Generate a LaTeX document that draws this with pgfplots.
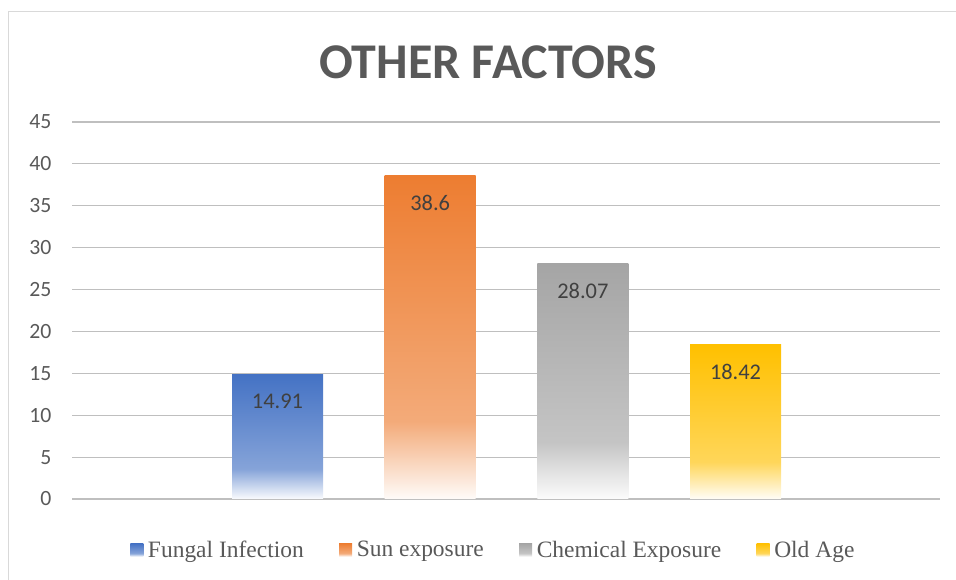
\documentclass[border=0pt]{standalone}
\usepackage{pgfplots}
\pgfplotsset{compat=1.18}
\usepackage{fontspec}
\setmainfont{Carlito}
\newfontfamily\legendfont{Liberation Serif}
\definecolor{cblue}{HTML}{4472C4}
\definecolor{corange}{HTML}{ED7D31}
\definecolor{cgray}{HTML}{A5A5A5}
\definecolor{cgold}{HTML}{FFC000}
\definecolor{txt}{HTML}{595959}
\definecolor{lbl}{HTML}{404040}
\definecolor{grid}{HTML}{D9D9D9}
\definecolor{frame}{HTML}{D9D9D9}
\pgfdeclareverticalshading{blueshade}{100bp}{color(0bp)=(cblue!3); color(25bp)=(cblue!3); color(37bp)=(cblue!65); color(75bp)=(cblue); color(100bp)=(cblue)}
\pgfdeclareverticalshading{orangeshade}{100bp}{color(0bp)=(corange!3); color(25bp)=(corange!3); color(37bp)=(corange!65); color(75bp)=(corange); color(100bp)=(corange)}
\pgfdeclareverticalshading{grayshade}{100bp}{color(0bp)=(cgray!3); color(25bp)=(cgray!3); color(37bp)=(cgray!65); color(75bp)=(cgray); color(100bp)=(cgray)}
\pgfdeclareverticalshading{goldshade}{100bp}{color(0bp)=(cgold!3); color(25bp)=(cgold!3); color(37bp)=(cgold!65); color(75bp)=(cgold); color(100bp)=(cgold)}
\begin{document}
\begin{tikzpicture}
\useasboundingbox (0pt,0pt) rectangle (717pt,435pt);
\draw[frame, line width=1.2pt] (6.4pt,-5pt) -- (6.4pt,426.5pt) -- (725pt,426.5pt);
\node[text=txt, font=\fontsize{37.5}{42}\selectfont\bfseries] at (366pt,388.5pt) {OTHER FACTORS};
\begin{axis}[
  at={(54pt,60.75pt)}, anchor=south west,
  scale only axis, width=651pt, height=282.75pt,
  ybar, bar width=0.596,
  xmin=-0.346, xmax=5.339,
  ymin=0, ymax=45,
  ytick={0,5,...,45},
  xtick=\empty,
  axis line style={draw=none},
  major tick length=0pt,
  ymajorgrids, grid style={grid, line width=0.9pt},
  yticklabel style={text=txt, font=\fontsize{16.3}{19}\selectfont, xshift=-12pt},
  /pgf/number format/assume math mode=true,
  nodes near coords,
  nodes near coords style={text=lbl, font=\fontsize{16.8}{20}\selectfont, anchor=center, yshift=-20.5pt},
  point meta=explicit symbolic,
  legend columns=4,
  legend style={at={(0.487,-0.1353)}, anchor=center, draw=none, fill=none,
    font=\legendfont\fontsize{17.6}{20}\selectfont, text=txt,
    /tikz/every even column/.append style={column sep=23pt},
    nodes={inner ysep=2pt, inner xsep=3.5pt}},
  legend cell align=left,
  mylegend/.style={legend image code/.code={\path[##1, draw=none] (0pt,-4.875pt) rectangle (9.75pt,4.875pt);}},
]
\addplot[draw=none, shading=blueshade, shading angle=0, bar shift=0pt, mylegend] coordinates {(1,14.91) [14.91]};
\addlegendentry{Fungal Infection}
\addplot[draw=none, shading=orangeshade, shading angle=0, bar shift=0pt, mylegend] coordinates {(2,38.6) [38.6]};
\addlegendentry{Sun exposure}
\addplot[draw=none, shading=grayshade, shading angle=0, bar shift=0pt, mylegend] coordinates {(3,28.07) [28.07]};
\addlegendentry{Chemical Exposure}
\addplot[draw=none, shading=goldshade, shading angle=0, bar shift=0pt, mylegend] coordinates {(4,18.42) [18.42]};
\addlegendentry{Old Age}
\end{axis}
\end{tikzpicture}
\end{document}
